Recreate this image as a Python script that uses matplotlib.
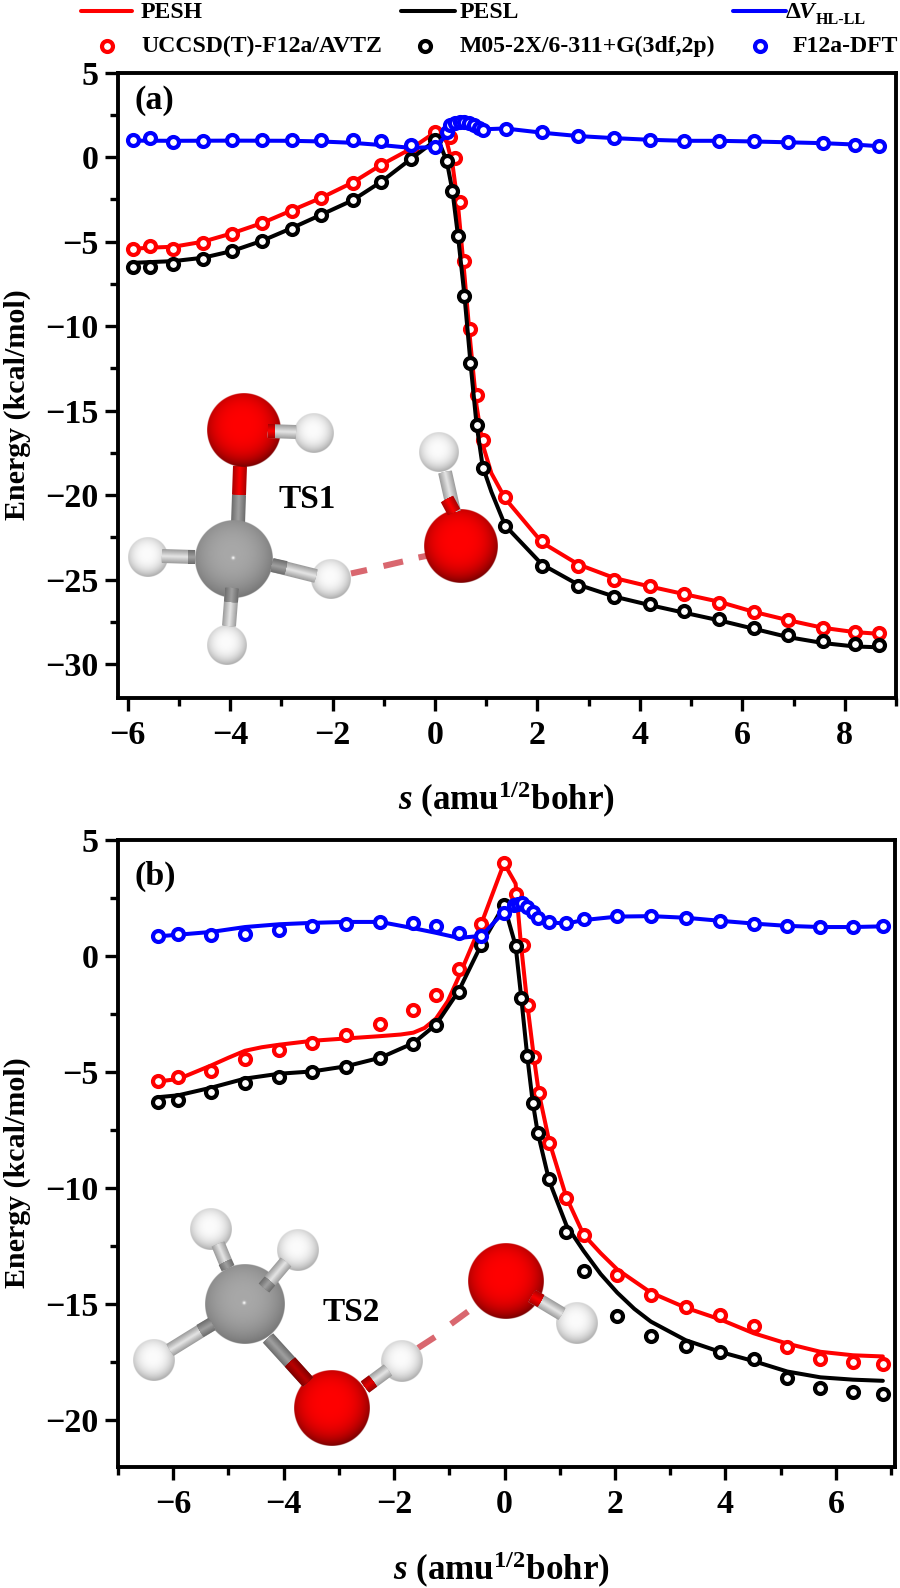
import numpy as np
import matplotlib
matplotlib.use("Agg")
import matplotlib.pyplot as plt
from matplotlib.lines import Line2D
from matplotlib.ticker import MultipleLocator

plt.rcParams['font.family'] = ['Liberation Serif', 'DejaVu Sans']
plt.rcParams['font.weight'] = 'bold'
plt.rcParams['mathtext.fontset'] = 'custom'
plt.rcParams['mathtext.bf'] = 'Liberation Serif:bold'
plt.rcParams['mathtext.it'] = 'Liberation Serif:italic:bold'
plt.rcParams['mathtext.rm'] = 'Liberation Serif:bold'

RED, BLACK, BLUE = '#ff0000', '#000000', '#0000ff'

# ---------- panel (a) ----------
a_red_x = [-5.89,-5.56,-5.11,-4.53,-3.96,-3.38,-2.80,-2.22,-1.61,-1.05,-0.47,-0.01,0.29,0.38,0.48,0.575,0.69,0.81,0.93,1.37,2.09,2.80,3.49,4.19,4.86,5.54,6.22,6.90,7.58,8.19,8.66]
a_red_y = [-5.42,-5.27,-5.42,-5.05,-4.53,-3.92,-3.20,-2.40,-1.52,-0.49,0.50,1.48,1.18,-0.06,-2.66,-6.13,-10.18,-14.06,-16.76,-20.12,-22.7,-24.2,-25.0,-25.4,-25.85,-26.35,-26.9,-27.4,-27.85,-28.1,-28.15]
a_blk_x = [-5.89,-5.56,-5.11,-4.53,-3.96,-3.38,-2.80,-2.22,-1.61,-1.05,-0.47,-0.01,0.23,0.34,0.45,0.575,0.69,0.81,0.93,1.37,2.09,2.80,3.49,4.19,4.86,5.54,6.22,6.90,7.58,8.19,8.66]
a_blk_y = [-6.47,-6.47,-6.31,-6.03,-5.56,-4.97,-4.24,-3.40,-2.56,-1.44,-0.10,0.99,-0.25,-2.01,-4.69,-8.22,-12.17,-15.83,-18.40,-21.85,-24.2,-25.4,-26.05,-26.45,-26.85,-27.3,-27.85,-28.3,-28.65,-28.8,-28.85]
a_blu_x = [-5.89,-5.56,-5.11,-4.53,-3.96,-3.38,-2.80,-2.22,-1.61,-1.05,-0.47,-0.01,0.23,0.29,0.38,0.48,0.575,0.67,0.76,0.85,0.93,1.38,2.09,2.80,3.49,4.19,4.86,5.54,6.22,6.90,7.58,8.19,8.66]
a_blu_y = [0.99,1.15,0.87,0.93,0.99,0.99,1.03,1.03,1.03,0.93,0.73,0.59,1.48,1.88,2.01,2.07,2.11,2.03,1.88,1.74,1.62,1.68,1.48,1.28,1.15,1.03,0.97,0.97,0.95,0.89,0.85,0.75,0.67]

a_line_red_x = [-5.89,-5.56,-5.11,-4.53,-3.96,-3.38,-2.8,-2.22,-1.61,-1.05,-0.47,-0.01,0.1,0.23,0.34,0.45,0.575,0.69,0.81,0.93,1.1,1.37,2.09,2.8,3.5,4.19,4.86,5.54,6.22,6.9,7.58,8.19,8.66]
a_line_red_y = [-5.42,-5.35,-5.3,-5.0,-4.5,-3.9,-3.15,-2.4,-1.5,-0.45,0.5,1.45,1.35,0.9,-0.4,-2.9,-7.0,-11.0,-14.7,-17.0,-18.7,-20.2,-22.8,-24.1,-24.9,-25.4,-25.85,-26.3,-26.9,-27.4,-27.85,-28.1,-28.2]
a_line_blk_x = [-5.89,-5.11,-4.53,-3.96,-3.38,-2.8,-2.22,-1.61,-1.05,-0.47,-0.01,0.1,0.23,0.34,0.45,0.575,0.69,0.81,0.93,1.1,1.37,2.09,2.8,3.5,4.19,4.86,5.54,6.22,6.9,7.58,8.19,8.66]
a_line_blk_y = [-6.25,-6.15,-5.95,-5.55,-4.95,-4.2,-3.4,-2.55,-1.45,-0.1,0.95,0.75,-0.25,-2.0,-4.7,-8.2,-12.1,-15.8,-18.3,-19.8,-21.8,-24.1,-25.3,-26.0,-26.5,-26.95,-27.4,-27.9,-28.4,-28.75,-28.95,-29.0]
a_line_blu_x = [-5.89,-5.11,-3.96,-2.8,-2.22,-1.61,-1.05,-0.47,-0.01,0.23,0.38,0.575,0.76,0.93,1.37,2.09,2.8,3.49,4.19,4.86,5.54,6.22,6.9,7.58,8.19,8.66]
a_line_blu_y = [0.98,0.97,0.98,0.97,0.93,0.85,0.72,0.55,0.6,1.3,1.75,2.05,1.9,1.65,1.7,1.45,1.25,1.13,1.03,0.97,0.97,0.93,0.88,0.83,0.75,0.65]

# ---------- panel (b) ----------
b_red_x = [-6.27,-5.91,-5.31,-4.70,-4.08,-3.48,-2.87,-2.25,-1.65,-1.24,-0.83,-0.42,-0.01,0.20,0.33,0.42,0.53,0.62,0.81,1.12,1.43,2.04,2.65,3.28,3.90,4.51,5.12,5.72,6.31,6.85]
b_red_y = [-5.40,-5.21,-4.96,-4.44,-4.06,-3.75,-3.40,-2.93,-2.34,-1.69,-0.54,1.40,4.01,2.69,0.46,-2.13,-4.35,-5.89,-8.06,-10.43,-12.0,-13.72,-14.6,-15.1,-15.46,-15.95,-16.85,-17.35,-17.5,-17.59]
b_blk_x = [-6.27,-5.91,-5.31,-4.70,-4.08,-3.48,-2.87,-2.25,-1.65,-1.24,-0.83,-0.42,-0.01,0.20,0.30,0.41,0.51,0.60,0.81,1.12,1.43,2.04,2.65,3.28,3.90,4.51,5.12,5.72,6.31,6.85]
b_blk_y = [-6.29,-6.19,-5.87,-5.46,-5.19,-5.0,-4.78,-4.4,-3.78,-2.96,-1.55,0.46,2.19,0.43,-1.79,-4.32,-6.32,-7.61,-9.6,-11.9,-13.55,-15.49,-16.36,-16.78,-17.04,-17.37,-18.17,-18.6,-18.8,-18.85]
b_blu_x = [-6.27,-5.91,-5.31,-4.70,-4.08,-3.48,-2.87,-2.25,-1.65,-1.24,-0.83,-0.42,-0.01,0.17,0.25,0.32,0.41,0.51,0.60,0.81,1.12,1.43,2.04,2.65,3.28,3.90,4.51,5.12,5.72,6.31,6.85]
b_blu_y = [0.85,0.94,0.91,0.96,1.11,1.28,1.40,1.46,1.42,1.28,0.99,0.86,1.87,2.18,2.25,2.30,2.11,1.90,1.65,1.47,1.42,1.58,1.72,1.72,1.65,1.52,1.40,1.30,1.25,1.25,1.28]

b_line_red_x = [-6.27,-5.91,-5.31,-5.0,-4.7,-4.4,-4.08,-3.48,-2.87,-2.25,-1.88,-1.65,-1.45,-1.24,-1.03,-0.83,-0.42,-0.01,0.2,0.29,0.41,0.53,0.62,0.81,1.12,1.43,1.74,2.04,2.65,3.28,3.9,4.51,5.12,5.72,6.31,6.85]
b_line_red_y = [-5.4,-5.3,-4.71,-4.38,-4.08,-3.93,-3.82,-3.65,-3.55,-3.45,-3.38,-3.3,-3.1,-2.69,-1.95,-0.9,1.4,4.0,3.12,0.68,-2.04,-4.35,-5.89,-8.0,-10.4,-12.0,-12.8,-13.5,-14.5,-15.15,-15.65,-16.25,-16.7,-17.05,-17.2,-17.25]
b_line_blk_x = [-6.27,-5.91,-5.31,-4.7,-4.08,-3.48,-2.87,-2.25,-1.65,-1.24,-0.83,-0.42,-0.01,0.2,0.3,0.41,0.51,0.6,0.81,1.12,1.43,1.74,2.04,2.35,2.65,3.28,3.9,4.51,5.12,5.72,6.31,6.85]
b_line_blk_y = [-6.08,-6.0,-5.67,-5.28,-5.07,-4.97,-4.75,-4.38,-3.75,-2.95,-1.5,0.5,2.2,0.45,-1.75,-4.3,-6.3,-7.6,-9.7,-11.6,-12.7,-13.7,-14.5,-15.2,-15.75,-16.55,-17.05,-17.45,-17.9,-18.15,-18.25,-18.3]
b_line_blu_x = [-6.27,-5.91,-5.31,-4.7,-4.08,-3.48,-2.87,-2.25,-1.65,-1.24,-0.83,-0.42,-0.01,0.2,0.41,0.6,0.81,1.12,1.43,2.04,2.65,3.28,3.9,4.51,5.12,5.72,6.31,6.85]
b_line_blu_y = [0.85,0.92,1.04,1.25,1.37,1.43,1.47,1.47,1.2,1.0,0.78,0.87,1.9,2.3,2.1,1.6,1.45,1.4,1.55,1.7,1.72,1.65,1.52,1.4,1.3,1.25,1.25,1.28]

W, H = 900, 1588
fig = plt.figure(figsize=(W/100, H/100), dpi=100, facecolor='white')

def axes_px(l, t, r, b):
    return fig.add_axes([l/W, 1-b/H, (r-l)/W, (b-t)/H])

def fx(x): return x/W
def fy(y): return 1-y/H

LW = 2.9
MS = 7.9
MEW = 3.0

def panel(ax, lines, points, xlim, ylim, xticks, yticks, ymin):
    z = 3
    for (lx, ly, c), (px, py) in zip(lines, points):
        ax.plot(lx, ly, color=c, lw=LW, zorder=z, solid_joinstyle='round', solid_capstyle='round')
        ax.plot(px, py, ls='none', marker='o', ms=MS, mew=MEW, mec=c, mfc='white', zorder=z+0.5)
        z += 1
    ax.set_xlim(*xlim)
    ax.set_ylim(*ylim)
    ax.set_xticks(xticks)
    ax.set_yticks(yticks)
    ax.xaxis.set_minor_locator(MultipleLocator(1))
    ax.yaxis.set_minor_locator(MultipleLocator(ymin))
    ax.tick_params(which='major', direction='out', length=9.2, width=2.4, labelsize=24.5, top=False, right=False)
    ax.tick_params(which='minor', direction='out', length=5.6, width=2.4, top=False, right=False)
    ax.tick_params(axis='x', which='major', pad=7)
    ax.tick_params(axis='y', which='major', pad=5)
    for s in ax.spines.values():
        s.set_linewidth(2.8)
    ax.set_xticklabels([str(t).replace('-', '\u2212') for t in xticks])
    ax.set_yticklabels([str(t).replace('-', '\u2212') for t in yticks])

ax_a = axes_px(118, 72.7, 896, 698)
panel(ax_a,
      [(a_line_red_x, a_line_red_y, RED), (a_line_blk_x, a_line_blk_y, BLACK), (a_line_blu_x, a_line_blu_y, BLUE)],
      [(a_red_x, a_red_y), (a_blk_x, a_blk_y), (a_blu_x, a_blu_y)],
      (-6.19, 9.0), (-32, 5), [-6,-4,-2,0,2,4,6,8], [-30,-25,-20,-15,-10,-5,0,5], 2.5)

ax_b = axes_px(118, 840, 895, 1466.7)
panel(ax_b,
      [(b_line_red_x, b_line_red_y, RED), (b_line_blk_x, b_line_blk_y, BLACK), (b_line_blu_x, b_line_blu_y, BLUE)],
      [(b_red_x, b_red_y), (b_blk_x, b_blk_y), (b_blu_x, b_blu_y)],
      (-7.0, 7.07), (-22, 5), [-6,-4,-2,0,2,4,6], [-20,-15,-10,-5,0,5], 2.5)

# axis labels and panel tags
XLAB = r'$\mathit{s}$ (amu$^{\mathbf{1/2}}$bohr)'
fig.text(fx(506), fy(800), XLAB, fontsize=25.2, ha='center', va='center')
fig.text(fx(501), fy(1570), XLAB, fontsize=25.2, ha='center', va='center')
fig.text(fx(17), fy(405), 'Energy (kcal/mol)', fontsize=21.6, rotation=90, ha='center', va='center')
fig.text(fx(17), fy(1173), 'Energy (kcal/mol)', fontsize=21.6, rotation=90, ha='center', va='center')
fig.text(fx(135), fy(100), '(a)', fontsize=24.5, ha='left', va='center')
fig.text(fx(135), fy(876), '(b)', fontsize=24.5, ha='left', va='center')

# legend rows
def leg_line(x0, x1, y, c):
    fig.add_artist(Line2D([fx(x0), fx(x1)], [fy(y), fy(y)], color=c, lw=LW, solid_capstyle='round', transform=fig.transFigure))
def leg_mark(x, y, c):
    fig.add_artist(Line2D([fx(x)], [fy(y)], ls='none', marker='o', ms=MS, mew=MEW, mec=c, mfc='white', transform=fig.transFigure))

LEG = 17.1
leg_line(81, 132, 11, RED);   fig.text(fx(141), fy(12), 'PESH', fontsize=LEG, ha='left', va='center')
leg_line(401, 455, 11, BLACK); fig.text(fx(460), fy(12), 'PESL', fontsize=LEG, ha='left', va='center')
leg_line(733, 786, 11, BLUE)
fig.text(fx(786), fy(12), '\u0394', fontsize=LEG, ha='left', va='center')
fig.text(fx(799), fy(12), 'V', fontsize=LEG, style='italic', ha='left', va='center')
fig.text(fx(816), fy(20), 'HL-LL', fontsize=11.5, ha='left', va='center')
leg_mark(107, 46, RED);   fig.text(fx(141), fy(46), 'UCCSD(T)-F12a/AVTZ', fontsize=LEG, ha='left', va='center')
leg_mark(425, 46, BLACK); fig.text(fx(460), fy(46), 'M05-2X/6-311+G(3df,2p)', fontsize=LEG, ha='left', va='center')
leg_mark(760, 46, BLUE);  fig.text(fx(793), fy(46), 'F12a-DFT', fontsize=LEG, ha='left', va='center')

# ---------- molecule illustrations on a pixel-space overlay ----------
ov = fig.add_axes([0, 0, 1, 1], zorder=10)
ov.axis('off')
ov.patch.set_alpha(0)

O_C = ((255, 0, 0), (120, 0, 0), 3.2)
H_C = ((252, 252, 252), (170, 170, 170), 2.6)
C_C = ((168, 168, 168), (118, 118, 118), 2.4)

def sphere(cx, cy, r, cols, hl=False, z=5):
    n = int(2*r*3)
    v = (np.arange(n)+0.5)/n*2-1
    xx, yy = np.meshgrid(v, v)
    d0 = np.sqrt(xx**2+yy**2)
    d = np.sqrt((xx+0.05)**2+(yy+0.14)**2)
    t = np.clip(d/1.14, 0, 1)**cols[2]
    img = np.zeros((n, n, 4))
    for i in range(3):
        img[..., i] = (cols[0][i]*(1-t)+cols[1][i]*t)/255
    if hl:
        g = np.exp(-((xx+0.02)**2+(yy+0.03)**2)/0.0015)[..., None]
        img[..., :3] = img[..., :3]*(1-g)+g
    img[..., 3] = np.clip((1-d0)*n/2, 0, 1)
    ov.imshow(img, extent=(cx-r, cx+r, cy+r, cy-r), zorder=z, interpolation='bilinear', aspect='auto')

def stick(p, q, col, w=14, z=3):
    n = 7
    for k in range(n):
        f = 1-k/n
        shade = 0.74+0.30*(k/(n-1))
        c = tuple(min(1, shade*v/255) for v in col)
        ov.plot([p[0], q[0]], [p[1], q[1]], color=c, lw=w*f*0.72, solid_capstyle='butt', zorder=z+k*0.01)

def bond(a, b, ca, cb, z=3, frac=0.5):
    m = (a[0]+(b[0]-a[0])*frac, a[1]+(b[1]-a[1])*frac)
    stick(a, m, ca, z=z)
    stick(m, b, cb, z=z)

GR = (150, 150, 150)
LG = (215, 215, 215)
RD = (235, 0, 0)
DASH = '#d9676f'

def dashes(segs):
    for p, q in segs:
        ov.plot([p[0], q[0]], [p[1], q[1]], color=DASH, lw=4.4, solid_capstyle='butt', zorder=3)

# TS1
sphere(234.3, 559, 39, C_C, hl=True)
sphere(243.3, 430, 36.7, O_C)
sphere(148.3, 556.7, 20, H_C)
sphere(331, 579, 20, H_C)
sphere(226.7, 645, 20, H_C)
sphere(314.3, 432.7, 20, H_C)
sphere(460.7, 546.7, 36.7, O_C)
sphere(439.3, 452.3, 20, H_C)
bond((240, 466), (238, 524), RD, GR, frac=0.5)
stick((195, 557), (162, 556), LG, z=6); stick((195, 557), (188, 557), GR, z=6.5)
stick((272, 565), (316, 576), LG, z=6); stick((272, 565), (286, 568), GR, z=6.5)
stick((232, 588), (229, 626), LG, z=6); stick((232, 588), (231, 602), GR, z=6.5)
stick((268, 431), (296, 432), LG, z=6); stick((268, 431), (275, 431), RD, z=6.5)
stick((445, 472), (454, 512), LG, z=6); stick((447, 499), (454, 512), RD, z=6.5)
dashes([((351, 573.5), (367, 570)), ((383.5, 566), (403, 561.5)), ((418.5, 557.5), (431, 555))])

# TS2
sphere(244.7, 1304.3, 40, C_C, hl=True)
sphere(210.7, 1229.3, 20.7, H_C)
sphere(297.7, 1250, 20.7, H_C)
sphere(153.3, 1360, 20.7, H_C)
sphere(331.7, 1408.3, 37.7, O_C)
sphere(401.7, 1361, 20.7, H_C)
sphere(505.7, 1281, 37.7, O_C)
sphere(576.7, 1323.3, 20.7, H_C)
stick((228, 1268), (218, 1244), LG, z=6); stick((228, 1268), (225, 1262), GR, z=6.5)
stick((264, 1288), (286, 1262), LG, z=6); stick((264, 1288), (270, 1281), GR, z=6.5)
stick((212, 1324), (170, 1350), LG, z=6); stick((212, 1324), (200, 1331), GR, z=6.5)
stick((268, 1338), (308, 1382), GR, z=6); stick((290, 1362), (308, 1382), (175, 0, 0), z=6.5)
stick((365, 1387), (388, 1370), LG, z=6); stick((365, 1387), (373, 1381), (215, 0, 0), z=6.5)
stick((532, 1296), (562, 1314), LG, z=6); stick((532, 1296), (541, 1301), (235, 0, 0), z=6.5)
dashes([((418, 1348), (435, 1337)), ((451, 1324), (468, 1311.5))])

ov.set_xlim(0, W)
ov.set_ylim(H, 0)
ov.text(307.3, 499.3, 'TS1', fontsize=24, ha='center', va='center', zorder=20)
ov.text(350.7, 1312.3, 'TS2', fontsize=24, ha='center', va='center', zorder=20)

fig.savefig('out.png', dpi=100, facecolor='white')
